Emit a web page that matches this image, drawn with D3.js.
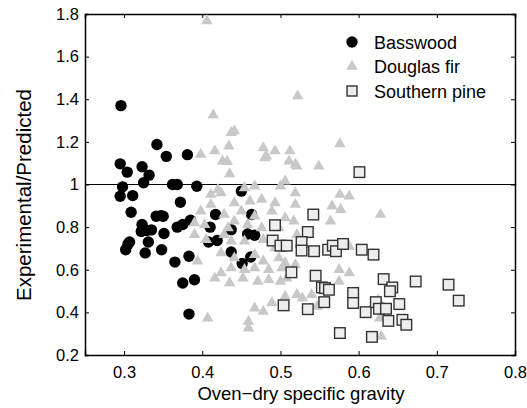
<!DOCTYPE html>
<html>
<head>
<meta charset="utf-8">
<script src="https://cdn.jsdelivr.net/npm/d3@7"></script>
<style>
  body { margin: 0; background: #fff; }
  svg { display: block; font-family: "Liberation Sans", Arial, Helvetica, sans-serif; }
</style>
</head>
<body>
<div class="canvas"></div>
<script>
// data: [specific gravity, experimental/predicted]
const basswood = [
  [0.296, 1.37], [0.295, 1.097], [0.304, 1.058], [0.323, 1.083], [0.332, 1.044],
  [0.325, 1.008], [0.342, 1.188], [0.354, 1.132], [0.381, 1.14], [0.298, 0.989],
  [0.295, 0.945], [0.311, 0.948], [0.362, 1.0], [0.368, 1.0], [0.393, 0.992],
  [0.372, 0.917], [0.309, 0.87], [0.341, 0.851], [0.347, 0.854], [0.35, 0.851],
  [0.323, 0.812], [0.322, 0.78], [0.329, 0.784], [0.335, 0.787], [0.351, 0.77],
  [0.368, 0.80], [0.375, 0.812], [0.385, 0.832], [0.307, 0.73], [0.305, 0.72],
  [0.302, 0.694], [0.331, 0.73], [0.327, 0.679], [0.348, 0.694], [0.365, 0.636],
  [0.383, 0.663], [0.375, 0.538], [0.39, 0.553], [0.383, 0.392], [0.41, 0.80],
  [0.408, 0.73], [0.419, 0.737], [0.417, 0.859], [0.437, 0.788], [0.437, 0.683],
  [0.45, 0.969], [0.463, 0.859], [0.458, 0.768], [0.467, 0.762], [0.451, 0.629],
  [0.462, 0.66]
];

const douglasFir = [
  [0.406, 1.768], [0.522, 1.415], [0.414, 1.326], [0.437, 1.243], [0.441, 1.251],
  [0.434, 1.18], [0.398, 1.141], [0.416, 1.157], [0.426, 1.11], [0.432, 1.107],
  [0.435, 1.05], [0.478, 1.172], [0.482, 1.133], [0.48, 1.125], [0.493, 1.157],
  [0.512, 1.157], [0.511, 1.11], [0.519, 1.094], [0.521, 1.086], [0.549, 1.086],
  [0.576, 1.19], [0.506, 1.016], [0.5, 0.992], [0.454, 0.984], [0.467, 0.992],
  [0.42, 0.976], [0.411, 0.953], [0.424, 0.961], [0.519, 0.961], [0.576, 0.953],
  [0.588, 0.945], [0.566, 0.898], [0.577, 0.882], [0.628, 0.859], [0.398, 0.875],
  [0.411, 0.906], [0.441, 0.914], [0.461, 0.922], [0.476, 0.93], [0.493, 0.914],
  [0.519, 0.906], [0.428, 0.859], [0.45, 0.875], [0.467, 0.851], [0.489, 0.875],
  [0.506, 0.843], [0.517, 0.828], [0.564, 0.828], [0.39, 0.82], [0.403, 0.812],
  [0.433, 0.796], [0.441, 0.828], [0.458, 0.812], [0.476, 0.796], [0.498, 0.796],
  [0.521, 0.765], [0.39, 0.765], [0.405, 0.741], [0.428, 0.765], [0.437, 0.734],
  [0.454, 0.734], [0.478, 0.741], [0.493, 0.702], [0.588, 0.71], [0.394, 0.64],
  [0.424, 0.679], [0.441, 0.655], [0.467, 0.671], [0.478, 0.64], [0.498, 0.655],
  [0.506, 0.632], [0.519, 0.624], [0.437, 0.608], [0.454, 0.6], [0.467, 0.608],
  [0.485, 0.6], [0.502, 0.608], [0.575, 0.6], [0.588, 0.585], [0.416, 0.561],
  [0.424, 0.585], [0.435, 0.538], [0.452, 0.561], [0.471, 0.545], [0.485, 0.553],
  [0.5, 0.545], [0.508, 0.561], [0.575, 0.545], [0.506, 0.475], [0.521, 0.483],
  [0.528, 0.467], [0.467, 0.42], [0.478, 0.404], [0.489, 0.444], [0.547, 0.428],
  [0.54, 0.483], [0.407, 0.373], [0.459, 0.357], [0.459, 0.326], [0.627, 0.373],
  [0.629, 0.287], [0.625, 0.459]
];

const southernPine = [
  [0.601, 1.058], [0.542, 0.859], [0.493, 0.809], [0.535, 0.777], [0.49, 0.737],
  [0.5, 0.713], [0.508, 0.713], [0.527, 0.73], [0.527, 0.69], [0.543, 0.687],
  [0.561, 0.694], [0.567, 0.713], [0.571, 0.687], [0.58, 0.721], [0.604, 0.694],
  [0.619, 0.671], [0.514, 0.588], [0.545, 0.572], [0.553, 0.517], [0.557, 0.514],
  [0.562, 0.506], [0.556, 0.448], [0.504, 0.433], [0.535, 0.415], [0.576, 0.303],
  [0.593, 0.491], [0.593, 0.444], [0.609, 0.401], [0.622, 0.448], [0.626, 0.417],
  [0.635, 0.417], [0.632, 0.556], [0.643, 0.517], [0.64, 0.499], [0.652, 0.439],
  [0.638, 0.36], [0.656, 0.365], [0.661, 0.342], [0.617, 0.285], [0.673, 0.545],
  [0.715, 0.53], [0.728, 0.455]
];

const xTicks = [0.3, 0.4, 0.5, 0.6, 0.7, 0.8];
const xTickLabels = ['0.3', '0.4', '0.5', '0.6', '0.7', '0.8'];
const yTicks = [0.2, 0.4, 0.6, 0.8, 1.0, 1.2, 1.4, 1.6, 1.8];
const yTickLabels = ['0.2', '0.4', '0.6', '0.8', '1', '1.2', '1.4', '1.6', '1.8'];
const seriesNames = ['Basswood', 'Douglas fir', 'Southern pine'];

const svgWidth = 527;
const svgHeight = 408;
const margins = { top: 14, bottom: 53, left: 85, right: 12 };
const graphWidth = svgWidth - margins.left - margins.right;
const graphHeight = svgHeight - margins.top - margins.bottom;

const svg = d3.select('.canvas')
  .append('svg')
    .attr('width', svgWidth)
    .attr('height', svgHeight);

const graph = svg.append('g')
  .attr('transform', `translate(${margins.left},${margins.top})`);

const x = d3.scaleLinear().domain([0.25, 0.8]).range([0, graphWidth]);
const y = d3.scaleLinear().domain([0.2, 1.8]).range([graphHeight, 0]);

// axes with inward ticks on all four sides
const xAxis = d3.axisBottom(x).tickValues(xTicks)
  .tickFormat((d, i) => xTickLabels[i]).tickSize(-4).tickPadding(11);
const yAxis = d3.axisLeft(y).tickValues(yTicks)
  .tickFormat((d, i) => yTickLabels[i]).tickSize(-4).tickPadding(6);
const xTop = d3.axisTop(x).tickValues(xTicks).tickFormat('').tickSize(-4);
const yRight = d3.axisRight(y).tickValues(yTicks).tickFormat('').tickSize(-4);

graph.append('g').attr('transform', `translate(0,${graphHeight})`).call(xAxis);
graph.append('g').call(yAxis);
graph.append('g').call(xTop);
graph.append('g').attr('transform', `translate(${graphWidth},0)`).call(yRight);

graph.selectAll('.domain').attr('stroke', '#000').attr('stroke-width', 1.5);
graph.selectAll('.tick line').attr('stroke', '#000').attr('stroke-width', 1);
graph.selectAll('.tick text').attr('font-size', 16.5).attr('fill', '#000')
  .attr('font-family', '"Liberation Sans", Arial, sans-serif');

// reference line at 1
graph.append('line')
  .attr('x1', 0).attr('x2', graphWidth)
  .attr('y1', y(1)).attr('y2', y(1))
  .attr('stroke', '#000').attr('stroke-width', 1.1);

const triPath = (s) => {
  const h = s * Math.sqrt(3) / 2;
  return `M0,${-h * 2 / 3}L${s / 2},${h / 3}L${-s / 2},${h / 3}Z`;
};

// basswood circles
graph.selectAll('circle.bass')
  .data(basswood)
  .enter().append('circle')
    .attr('class', 'bass')
    .attr('cx', d => x(d[0]))
    .attr('cy', d => y(d[1]))
    .attr('r', 5.7)
    .attr('fill', '#000');

// douglas fir triangles
graph.selectAll('path.fir')
  .data(douglasFir)
  .enter().append('path')
    .attr('class', 'fir')
    .attr('d', triPath(11.5))
    .attr('transform', d => `translate(${x(d[0])},${y(d[1])})`)
    .attr('fill', '#c8c8c8');

// southern pine squares
graph.selectAll('rect.pine')
  .data(southernPine)
  .enter().append('rect')
    .attr('class', 'pine')
    .attr('x', d => x(d[0]) - 5.3)
    .attr('y', d => y(d[1]) - 5.3)
    .attr('width', 10.6)
    .attr('height', 10.6)
    .attr('fill', '#eeeeee')
    .attr('stroke', '#333')
    .attr('stroke-width', 1.4);

// legend
const legend = svg.append('g').attr('transform', 'translate(352,42)');
legend.append('circle').attr('cx', 0).attr('cy', 0).attr('r', 5.7).attr('fill', '#000');
legend.append('path').attr('d', triPath(11.5))
  .attr('transform', 'translate(0,24.5)').attr('fill', '#c8c8c8');
legend.append('rect').attr('x', -5).attr('y', 44).attr('width', 10).attr('height', 10)
  .attr('fill', '#eeeeee').attr('stroke', '#333').attr('stroke-width', 1.4);
legend.selectAll('text')
  .data(seriesNames)
  .enter().append('text')
    .attr('x', 22)
    .attr('y', (d, i) => i * 24.5 + 6.5)
    .attr('font-size', 18)
    .text(d => d);

// axis titles
svg.append('text')
  .attr('x', 301).attr('y', 400)
  .attr('text-anchor', 'middle')
  .attr('font-size', 18.5)
  .text('Oven\u2212dry specific gravity');

svg.append('text')
  .attr('transform', 'translate(31,195) rotate(-90)')
  .attr('text-anchor', 'middle')
  .attr('font-size', 20.5)
  .text('Experimental/Predicted');
</script>
</body>
</html>
